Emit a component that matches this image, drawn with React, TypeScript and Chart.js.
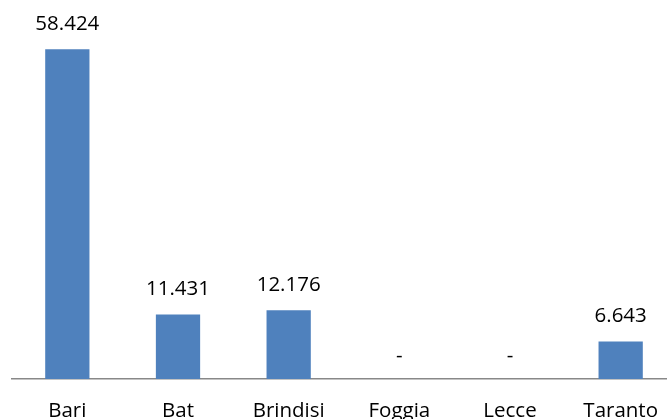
import React, { useEffect, useRef } from "react";
import { Chart, registerables } from "chart.js";

Chart.register(...registerables);

const categories = ["Bari", "Bat", "Brindisi", "Foggia", "Lecce", "Taranto"];
const values = [58424, 11431, 12176, 0, 0, 6643];

const FONT = "'Open Sans', 'Noto Sans', sans-serif";
const FONT_SIZE = 20.5;

function fmt(v: number): string {
  if (!v) return "-";
  const s = Math.round(v).toString();
  return s.replace(/\B(?=(\d{3})+(?!\d))/g, ".");
}

const valueLabels = {
  id: "valueLabels",
  afterDatasetsDraw(chart: any) {
    const ctx = chart.ctx;
    const meta = chart.getDatasetMeta(0);
    ctx.save();
    ctx.font = `${FONT_SIZE}px ${FONT}`;
    ctx.fillStyle = "#000000";
    ctx.textAlign = "center";
    ctx.textBaseline = "middle";
    meta.data.forEach((bar: any, i: number) => {
      const v = values[i];
      const off = v ? 25 : 23;
      ctx.fillText(fmt(v), bar.x, bar.y - off);
    });
    ctx.restore();
  },
};

export default function App() {
  const ref = useRef<HTMLCanvasElement>(null);
  useEffect(() => {
    if (!ref.current) return;
    const chart = new Chart(ref.current, {
      type: "bar",
      data: {
        labels: categories,
        datasets: [
          {
            data: values,
            backgroundColor: "#4F81BD",
            borderWidth: 0,
            barPercentage: 0.4,
            categoryPercentage: 1,
          },
        ],
      },
      options: {
        animation: false,
        responsive: false,
        maintainAspectRatio: false,
        layout: { padding: { left: 12, right: 0, top: 0, bottom: 0 } },
        plugins: { legend: { display: false }, tooltip: { enabled: false } },
        scales: {
          x: {
            grid: { display: false },
            border: { display: true, color: "#888888", width: 1.5 },
            ticks: {
              color: "#000000",
              padding: 12,
              font: { family: FONT, size: FONT_SIZE },
            },
            afterFit(scale: any) {
              scale.height = 40;
            },
          },
          y: {
            display: false,
            min: 0,
            max: 67170,
          },
        },
      },
      plugins: [valueLabels],
    });
    return () => chart.destroy();
  }, []);
  return (
    <div style={{ position: "absolute", left: 0, top: 0, width: 667, height: 419, overflow: "hidden", background: "#fff" }}>
      <canvas ref={ref} width={676} height={419} style={{ display: "block" }} />
    </div>
  );
}
